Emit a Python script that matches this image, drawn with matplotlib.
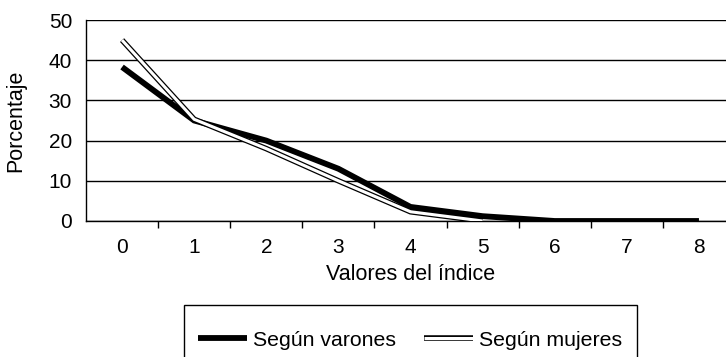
import matplotlib
matplotlib.use("Agg")
import matplotlib.pyplot as plt
import matplotlib.patheffects as pe
from matplotlib.lines import Line2D
from matplotlib.patches import Rectangle
import numpy as np

plt.rcParams['font.family'] = ['Liberation Sans', 'DejaVu Sans']

indice = [0, 1, 2, 3, 4, 5, 6, 7, 8]
segun_varones = [38.3, 25.0, 20.0, 13.0, 3.5, 1.2, 0.0, 0.0, 0.0]
segun_mujeres = [45.0, 25.3, 18.0, 10.0, 2.3, 0.0, np.nan, np.nan, np.nan]
y_ticks = [0, 10, 20, 30, 40, 50]

W, H = 726, 357
fig = plt.figure(figsize=(W / 100, H / 100), dpi=100)
ax = fig.add_axes([86 / W, (H - 221) / H, 649 / W, 201 / H])

ax.plot(indice, segun_varones, color='black', lw=4.2,
        solid_capstyle='butt', solid_joinstyle='miter', zorder=3)
ax.plot(indice, segun_mujeres, color='white', lw=2.2,
        solid_capstyle='butt', solid_joinstyle='miter', zorder=4,
        path_effects=[pe.Stroke(linewidth=4.0, foreground='black',
                                capstyle='butt', joinstyle='miter'),
                      pe.Normal()])

ax.set_xlim(-0.5, 8.5)
ax.set_ylim(0, 50)
ax.set_yticks(y_ticks)
ax.set_xticks(indice)
ax.set_xticks(np.arange(0.5, 8.5, 1.0), minor=True)
ax.tick_params(axis='x', which='major', length=0, pad=12, labelsize=15)
ax.tick_params(axis='x', which='minor', length=5, width=1, direction='out')
ax.tick_params(axis='y', length=0, pad=10, labelsize=15)

ax.grid(axis='y', color='black', lw=1)
ax.set_axisbelow(True)
for s in ['top', 'right']:
    ax.spines[s].set_visible(False)
ax.spines['left'].set_linewidth(1)
ax.spines['bottom'].set_linewidth(1)

ax.set_ylabel('Porcentaje', fontsize=15.5)
ax.yaxis.set_label_coords(-0.092, 0.5)
ax.set_xlabel('Valores del índice', fontsize=15.5, va='top')
ax.xaxis.set_label_coords(0.5, -0.215)

# legend box
fig.patches.append(Rectangle((184 / W, -0.1), (637 - 184) / W, (H - 305) / H + 0.1,
                             transform=fig.transFigure, facecolor='white',
                             edgecolor='black', lw=1, clip_on=False))
h1 = Line2D([], [], color='black', lw=4.2, solid_capstyle='butt')
h2 = Line2D([], [], color='white', lw=2.2, solid_capstyle='butt',
            path_effects=[pe.Stroke(linewidth=4.0, foreground='black', capstyle='butt'),
                          pe.Normal()])
fig.legend([h1, h2], ['Según varones', 'Según mujeres'], ncol=2, frameon=False,
           loc='center', bbox_to_anchor=(410 / W, (H - 340) / H),
           fontsize=15.3, handlelength=2.3, handletextpad=0.3, columnspacing=1.3)

fig.savefig('out.png', dpi=100)
